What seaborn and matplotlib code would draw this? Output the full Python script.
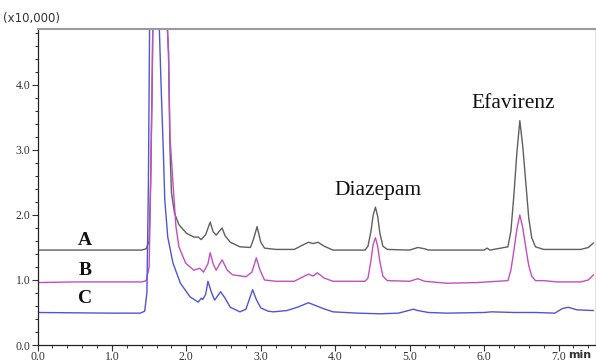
import numpy as np
import pandas as pd
import matplotlib
matplotlib.use("Agg")
import matplotlib.pyplot as plt
import seaborn as sns
from matplotlib.ticker import MultipleLocator

# Trace A (gray) - retention time (min) and signal (x10,000)
time_a = [0.0, 1.40, 1.46, 1.50, 1.52, 1.54, 1.56, 1.70, 1.76, 1.78, 1.80, 1.84, 1.90, 2.00, 2.10,
          2.16, 2.20, 2.26, 2.32, 2.36, 2.40, 2.48, 2.52, 2.59, 2.72, 2.86, 2.90, 2.95, 3.00, 3.05,
          3.20, 3.45, 3.55, 3.64, 3.70, 3.77, 3.85, 3.97, 4.40, 4.44, 4.48, 4.51, 4.54, 4.57, 4.60,
          4.64, 4.70, 5.00, 5.11, 5.20, 5.25, 6.00, 6.04, 6.08, 6.32, 6.36, 6.40, 6.44, 6.48, 6.52,
          6.56, 6.60, 6.64, 6.69, 6.80, 7.30, 7.40, 7.47]
sig_a = [1.46, 1.46, 1.48, 1.60, 2.50, 4.00, 6.00, 6.00, 4.50, 3.00, 2.34, 2.03, 1.85, 1.72, 1.66,
         1.66, 1.62, 1.70, 1.89, 1.74, 1.69, 1.80, 1.68, 1.58, 1.51, 1.50, 1.62, 1.82, 1.58, 1.49,
         1.47, 1.47, 1.53, 1.58, 1.56, 1.58, 1.52, 1.46, 1.46, 1.52, 1.75, 2.00, 2.12, 1.98, 1.72,
         1.52, 1.47, 1.46, 1.50, 1.48, 1.46, 1.46, 1.49, 1.46, 1.51, 1.75, 2.30, 2.95, 3.45, 3.05,
         2.50, 1.95, 1.65, 1.51, 1.47, 1.47, 1.50, 1.57]

# Trace B (magenta)
time_b = [0.0, 0.5, 1.40, 1.46, 1.50, 1.52, 1.54, 1.56, 1.70, 1.76, 1.78, 1.82, 1.86, 1.90, 1.99,
          2.10, 2.18, 2.23, 2.29, 2.32, 2.36, 2.40, 2.48, 2.55, 2.62, 2.80, 2.88, 2.94, 2.99, 3.05,
          3.20, 3.45, 3.55, 3.64, 3.70, 3.76, 3.85, 3.97, 4.40, 4.44, 4.48, 4.51, 4.54, 4.57, 4.60,
          4.64, 4.70, 5.00, 5.11, 5.20, 5.50, 5.90, 6.32, 6.36, 6.40, 6.44, 6.48, 6.52, 6.56, 6.60,
          6.64, 6.69, 6.80, 6.98, 7.30, 7.40, 7.47]
sig_b = [0.96, 0.97, 0.97, 0.99, 1.20, 2.50, 4.00, 6.00, 6.00, 4.50, 3.20, 2.49, 1.82, 1.51, 1.26,
         1.15, 1.18, 1.12, 1.25, 1.42, 1.25, 1.15, 1.31, 1.15, 1.08, 1.05, 1.12, 1.34, 1.15, 1.00,
         0.98, 0.98, 1.04, 1.09, 1.06, 1.11, 1.03, 0.98, 0.98, 1.03, 1.30, 1.55, 1.65, 1.52, 1.28,
         1.06, 0.99, 0.98, 1.02, 0.98, 0.95, 0.96, 0.99, 1.15, 1.45, 1.78, 2.00, 1.80, 1.50, 1.22,
         1.06, 0.99, 0.99, 0.97, 0.97, 1.00, 1.08]

# Trace C (blue)
time_c = [0.0, 1.00, 1.38, 1.44, 1.47, 1.49, 1.51, 1.62, 1.66, 1.69, 1.71, 1.75, 1.82, 1.92, 2.05,
          2.16, 2.20, 2.22, 2.26, 2.29, 2.34, 2.38, 2.46, 2.52, 2.59, 2.72, 2.80, 2.89, 2.94, 3.00,
          3.10, 3.17, 3.35, 3.49, 3.64, 3.75, 3.84, 3.97, 4.30, 4.60, 4.85, 5.05, 5.11, 5.25, 5.50,
          6.00, 6.10, 6.40, 6.69, 6.95, 7.05, 7.13, 7.25, 7.47]
sig_c = [0.50, 0.49, 0.49, 0.52, 0.80, 2.50, 5.50, 5.50, 4.00, 3.00, 2.23, 1.66, 1.26, 0.95, 0.74,
         0.66, 0.72, 0.70, 0.78, 0.98, 0.80, 0.69, 0.82, 0.72, 0.58, 0.51, 0.55, 0.85, 0.70, 0.57,
         0.52, 0.51, 0.53, 0.58, 0.65, 0.60, 0.56, 0.51, 0.49, 0.48, 0.49, 0.55, 0.53, 0.50, 0.49,
         0.50, 0.51, 0.50, 0.50, 0.49, 0.56, 0.58, 0.54, 0.53]

trace_names = ["A", "B", "C"]
trace_colors = {"A": "#5f5f5f", "B": "#c24fc2", "C": "#4f55d6"}

df = pd.concat([
    pd.DataFrame({"time": time_a, "signal": sig_a, "trace": "A"}),
    pd.DataFrame({"time": time_b, "signal": sig_b, "trace": "B"}),
    pd.DataFrame({"time": time_c, "signal": sig_c, "trace": "C"}),
])

sns.set_style("ticks")
fig = plt.figure(figsize=(5.96, 3.62), dpi=100)
ax = fig.add_axes([37.5 / 596, 17 / 362, (595 - 37.5) / 596, (345 - 29) / 362])

sns.lineplot(data=df, x="time", y="signal", hue="trace", palette=trace_colors,
             estimator=None, sort=False, linewidth=1.0, legend=False, ax=ax)

ax.set_xlim(0, 7.49)
ax.set_ylim(0, 4.86)
ax.set_xlabel("")
ax.set_ylabel("")

ax.xaxis.set_minor_locator(MultipleLocator(0.2))
ax.yaxis.set_minor_locator(MultipleLocator(0.2))
ax.tick_params(which="major", direction="out", length=4, width=0.8, color="#333333")
ax.tick_params(which="minor", direction="out", length=2.5, width=0.7, color="#333333")
ax.set_xticks(np.arange(0, 8, 1.0))
ax.set_xticklabels([f"{v:.1f}" for v in np.arange(0, 8, 1.0)],
                   family="Liberation Serif", fontsize=8.5, color="#333333")
ax.set_yticks(np.arange(0, 5, 1.0))
ax.set_yticklabels([f"{v:.1f}" for v in np.arange(0, 5, 1.0)],
                   family="Liberation Serif", fontsize=8.5, color="#333333")
ax.tick_params(axis="x", pad=0.5)
ax.tick_params(axis="y", pad=1)

for side in ["left", "bottom"]:
    ax.spines[side].set_color("#222222")
    ax.spines[side].set_linewidth(0.9)
ax.spines["top"].set_color("#9a9a9a")
ax.spines["top"].set_linewidth(1.5)
ax.spines["right"].set_color("#e0e0e0")
ax.spines["right"].set_linewidth(0.8)

# annotations
fig.text(0.005, 0.94, "(x10,000)", fontsize=8.5, family="DejaVu Sans", color="#333333")
ax.text(7.13, -0.07, "min", fontsize=8, fontweight="bold", family="DejaVu Sans",
        color="#333333", va="top", ha="left")
label_y = {"A": 1.60, "B": 1.15, "C": 0.71}
for name in trace_names:
    ax.text(0.64, label_y[name], name, fontsize=14, fontweight="bold",
            family="Liberation Serif", ha="center", va="center", color="#111111")
ax.text(4.58, 2.38, "Diazepam", fontsize=15.5, family="Liberation Serif",
        ha="center", va="center", color="#111111")
ax.text(6.39, 3.71, "Efavirenz", fontsize=15.5, family="Liberation Serif",
        ha="center", va="center", color="#111111")

fig.savefig("out.png", dpi=100)
